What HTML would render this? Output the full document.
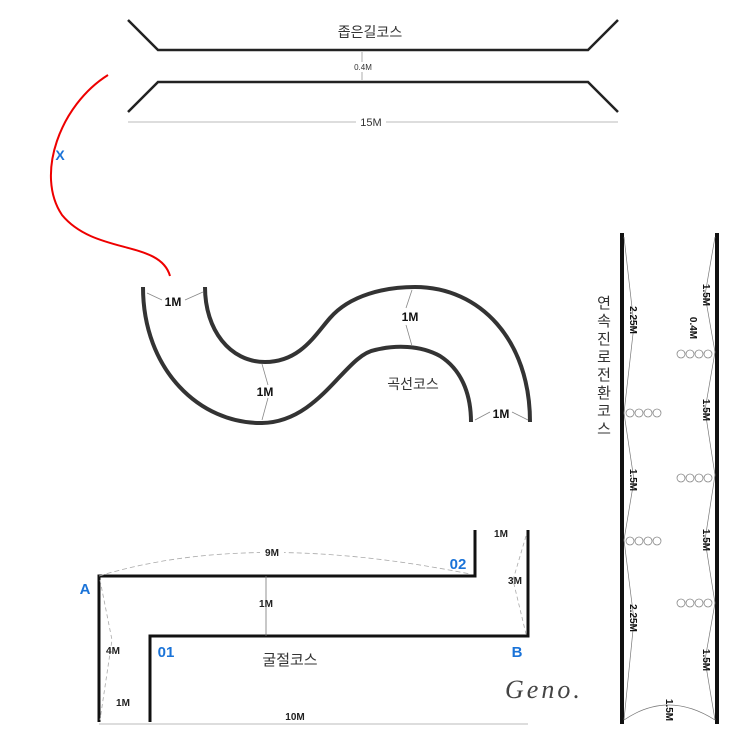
<!DOCTYPE html>
<html><head><meta charset="utf-8"><style>
body{margin:0;background:#fff;}
svg{display:block;}
text{font-family:"Liberation Sans","Noto Sans CJK KR",sans-serif;}
</style></head><body>
<svg width="730" height="730" viewBox="0 0 730 730" xmlns="http://www.w3.org/2000/svg">
<g fill="none" stroke="#222" stroke-width="2.5">
<polyline points="128,20 158,50 588,50 618,20"/>
<polyline points="128,112 158,82 588,82 618,112"/>
</g>
<line x1="128" y1="122" x2="618" y2="122" stroke="#bbb" stroke-width="1"/>
<line x1="362" y1="52" x2="362" y2="80" stroke="#999" stroke-width="0.8"/>
<rect x="352" y="62" width="22" height="10" fill="#fff"/>
<text x="363" y="70" font-size="8" text-anchor="middle" fill="#333">0.4M</text>
<rect x="356" y="116" width="30" height="12" fill="#fff"/>
<text x="371" y="126" font-size="11" text-anchor="middle" fill="#333">15M</text>
<text x="370" y="37" font-size="14" text-anchor="middle" fill="#333">좁은길코스</text>
<path d="M108,75 C60,105 35,175 62,215 C95,255 160,240 170,276" fill="none" stroke="#e00" stroke-width="2"/>
<text x="60" y="160" font-size="14" font-weight="bold" fill="#1a73d8" text-anchor="middle">X</text>
<g fill="none" stroke="#333" stroke-width="4">
<path d="M143,287 C143,370 200,424 262,423 C320,422 345,355 375,350 C395,345 420,345 440,356 C465,372 471,400 471,422"/>
<path d="M205,287 C205,330 230,362 265,362 C300,362 315,335 330,318 C350,295 385,287 415,287 C480,287 530,340 530,422"/>
</g>
<g stroke="#888" stroke-width="0.8" fill="none">
<path d="M147,293 L162,300 M185,300 L203,292"/>
<path d="M262,364 L268,385 M268,398 L262,420"/>
<path d="M412,290 L406,308 M406,325 L412,346"/>
<path d="M475,420 L490,412 M512,412 L528,420"/>
</g>
<g font-size="12" text-anchor="middle" fill="#111" font-weight="bold">
<text x="173" y="306">1M</text>
<text x="265" y="396">1M</text>
<text x="410" y="321">1M</text>
<text x="501" y="418">1M</text>
</g>
<text x="413" y="389" font-size="14" text-anchor="middle" fill="#333">곡선코스</text>
<g fill="none" stroke="#111" stroke-width="3">
<polyline points="99,722 99,576 475,576 475,530"/>
<polyline points="150,722 150,636 528,636 528,530"/>
</g>
<line x1="99" y1="724" x2="528" y2="724" stroke="#bbb" stroke-width="1"/>
<line x1="266" y1="576" x2="266" y2="636" stroke="#777" stroke-width="0.8"/>
<path d="M99,576 Q250,530 470,574" fill="none" stroke="#aaa" stroke-width="0.8" stroke-dasharray="5,3"/>
<path d="M100,580 L112,640 L100,720" fill="none" stroke="#aaa" stroke-width="0.8" stroke-dasharray="4,3"/>
<path d="M526,536 L513,580 L526,634" fill="none" stroke="#aaa" stroke-width="0.8" stroke-dasharray="4,3"/>
<rect x="260" y="548" width="24" height="10" fill="#fff"/>
<g font-size="10" text-anchor="middle" fill="#222" font-weight="bold">
<text x="272" y="556">9M</text>
<text x="266" y="607">1M</text>
<text x="113" y="654">4M</text>
<text x="123" y="706">1M</text>
<text x="295" y="720">10M</text>
<text x="501" y="537">1M</text>
<text x="515" y="584">3M</text>
</g>
<text x="85" y="594" font-size="15" font-weight="bold" fill="#1a73d8" text-anchor="middle">A</text>
<text x="458" y="569" font-size="15" font-weight="bold" fill="#1a73d8" text-anchor="middle">02</text>
<text x="166" y="657" font-size="15" font-weight="bold" fill="#1a73d8" text-anchor="middle">01</text>
<text x="517" y="657" font-size="15" font-weight="bold" fill="#1a73d8" text-anchor="middle">B</text>
<text x="290" y="665" font-size="15" text-anchor="middle" fill="#333">굴절코스</text>
<text x="505" y="698" font-size="26" font-style="italic" fill="#444" style="font-family:'Liberation Serif',serif;letter-spacing:3px">Geno.</text>
<line x1="622" y1="233" x2="622" y2="724" stroke="#111" stroke-width="4"/>
<line x1="717" y1="233" x2="717" y2="724" stroke="#111" stroke-width="4"/>
<g fill="none" stroke="#777" stroke-width="0.7">
<polyline points="624,237 634,325 624,413 634,480 624,540 634,620 624,720"/>
<polyline points="715,237 705,295 715,352 705,410 715,475 705,540 715,603 705,660 715,720"/>
<path d="M624,720 Q668,690 715,720"/>
</g>
<g fill="#fff" stroke="#888" stroke-width="0.8">
<circle cx="681" cy="354" r="4"/><circle cx="690" cy="354" r="4"/><circle cx="699" cy="354" r="4"/><circle cx="708" cy="354" r="4"/>
<circle cx="630" cy="413" r="4"/><circle cx="639" cy="413" r="4"/><circle cx="648" cy="413" r="4"/><circle cx="657" cy="413" r="4"/>
<circle cx="681" cy="478" r="4"/><circle cx="690" cy="478" r="4"/><circle cx="699" cy="478" r="4"/><circle cx="708" cy="478" r="4"/>
<circle cx="630" cy="541" r="4"/><circle cx="639" cy="541" r="4"/><circle cx="648" cy="541" r="4"/><circle cx="657" cy="541" r="4"/>
<circle cx="681" cy="603" r="4"/><circle cx="690" cy="603" r="4"/><circle cx="699" cy="603" r="4"/><circle cx="708" cy="603" r="4"/>
</g>
<g font-size="10" fill="#111" text-anchor="middle" font-weight="bold">
<text transform="translate(630,320) rotate(90)">2.25M</text>
<text transform="translate(630,480) rotate(90)">1.5M</text>
<text transform="translate(630,618) rotate(90)">2.25M</text>
<text transform="translate(703,295) rotate(90)">1.5M</text>
<text transform="translate(690,328) rotate(90)">0.4M</text>
<text transform="translate(703,410) rotate(90)">1.5M</text>
<text transform="translate(703,540) rotate(90)">1.5M</text>
<text transform="translate(703,660) rotate(90)">1.5M</text>
<text transform="translate(666,710) rotate(90)">1.5M</text>
</g>
<g font-size="15" fill="#333" text-anchor="middle">
<text x="604" y="308">연</text>
<text x="604" y="326">속</text>
<text x="604" y="344">진</text>
<text x="604" y="362">로</text>
<text x="604" y="380">전</text>
<text x="604" y="398">환</text>
<text x="604" y="416">코</text>
<text x="604" y="434">스</text>
</g>
</svg>
</body></html>
